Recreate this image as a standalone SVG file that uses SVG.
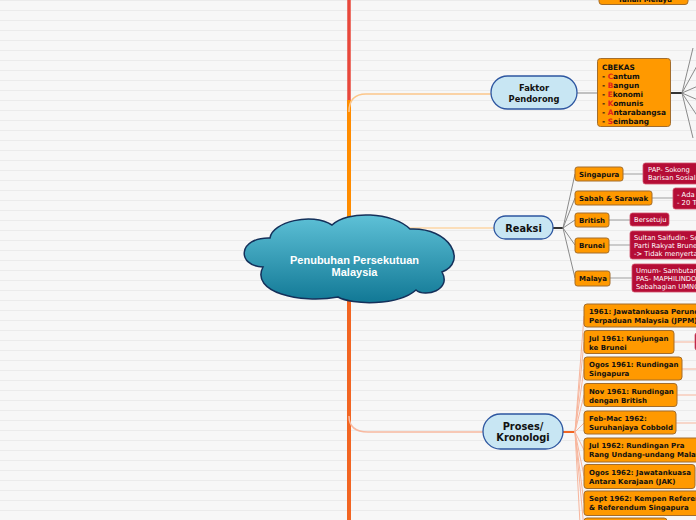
<svg xmlns="http://www.w3.org/2000/svg" width="696" height="520" viewBox="0 0 696 520">
<defs>
<pattern id="bg" width="10" height="10" patternUnits="userSpaceOnUse"><rect width="10" height="10" fill="#f7f7f7"/><rect y="0" width="10" height="1" fill="#ebebeb"/></pattern>
<linearGradient id="cg" x1="0" y1="0" x2="0" y2="1"><stop offset="0" stop-color="#5ec1d7"/><stop offset="1" stop-color="#117895"/></linearGradient>
</defs>
<style>
.ob{fill:#ff9900;stroke:#a36d2c;stroke-width:1}
.rb{fill:#b50d36;stroke:#d2506a;stroke-width:0.8}
.bn{fill:#c8e6f3;stroke:#2d56a0;stroke-width:1.3}
.b7,.w7,.nt,.cb{font-family:"DejaVu Sans",Verdana,sans-serif}
.b7{font-size:7px;font-weight:bold;fill:#111}
.cb{font-size:7.4px;font-weight:bold;fill:#111}
.w7{font-size:6.8px;fill:#fff}
.nt{font-weight:bold;fill:#111;text-anchor:middle}
.n8{font-size:8.3px}
.n10{font-size:9.8px}
.ct{font-family:"Liberation Sans",Arial,sans-serif;font-size:11px;font-weight:bold;fill:#fff;text-anchor:middle}
.red{fill:#e4221b}
.g{stroke:#8a8a8a;stroke-width:1;fill:none}
.s{stroke:#f7b59c;stroke-width:1;fill:none}
</style>
<rect width="696" height="520" fill="url(#bg)"/>

<g id="connectors" fill="none">
  <line x1="349" y1="0" x2="349" y2="104" stroke="#e8473b" stroke-width="3.5"/>
  <line x1="349" y1="100" x2="349" y2="240" stroke="#ff8c00" stroke-width="4"/>
  <line x1="349" y1="290" x2="349" y2="520" stroke="#f26522" stroke-width="4"/>
  <path d="M349,112 Q349,94 366,94 L491,94" stroke="#fcc68a" stroke-width="1.5"/>
  <path d="M349,228 L494,228" stroke="#fdd6a6" stroke-width="1.5"/>
  <path d="M349,416 Q349,432 368,432 L483,432" stroke="#f8b9a0" stroke-width="1.5"/>
  <line x1="577" y1="93" x2="597" y2="93" stroke="#9a9a9a" stroke-width="1.2"/>
  <line x1="671" y1="93" x2="683" y2="93" stroke="#333" stroke-width="2"/>
  <path class="g" d="M682,93 L693,48 M682,93 L698,64 M682,93 L698,86 M682,93 L698,100 M682,93 L698,117 M682,93 L693,138"/>
  <line x1="553" y1="228" x2="564" y2="228" stroke="#333" stroke-width="2"/>
  <path class="g" d="M563,228 L575,174 M563,228 L575,198 M563,228 L575,220 M563,228 L575,245 M563,228 L575,278"/>
  <path d="M623,174 H643 M652,198 H673 M609,220 H630 M609,245 H630 M610,278 H632" stroke="#a0a0a0" stroke-width="1.2"/>
  <line x1="563" y1="432" x2="576" y2="432" stroke="#f26522" stroke-width="2"/>
  <path class="s" d="M575,432 L584,316 M575,432 L584,342 M575,432 L584,369 M575,432 L584,395 M575,432 L584,423 M575,432 L584,450 M575,432 L584,476 M575,432 L584,503 M575,432 L584,529 M575,432 L582,560"/>
  <path class="s" d="M674,342 H696 M682,369 H696 M677,395 H696 M676,423 H696"/>
</g>

<g id="top-node">
  <rect class="ob" x="599" y="-20" width="89" height="24.5" rx="3"/>
  <text class="b7" x="645" y="1.5" text-anchor="middle">Tanah Melayu</text>
</g>

<g id="faktor">
  <rect class="bn" x="491" y="76" width="86" height="33" rx="16.5"/>
  <text class="nt n8" x="534" y="91">Faktor</text>
  <text class="nt n8" x="534" y="102">Pendorong</text>
</g>
<g id="cbekas">
  <rect class="ob" x="597.5" y="58.5" width="73" height="68" rx="3"/>
  <text class="cb" x="602" y="69.5">CBEKAS</text>
  <text class="cb" x="602" y="78.5">- <tspan class="red">C</tspan>antum</text>
  <text class="cb" x="602" y="87.5">- <tspan class="red">B</tspan>angun</text>
  <text class="cb" x="602" y="96.5">- <tspan class="red">E</tspan>konomi</text>
  <text class="cb" x="602" y="105.5">- <tspan class="red">K</tspan>omunis</text>
  <text class="cb" x="602" y="114.5">- <tspan class="red">A</tspan>ntarabangsa</text>
  <text class="cb" x="602" y="123.5">- <tspan class="red">S</tspan>eimbang</text>
</g>

<g id="reaksi">
  <rect class="bn" x="494" y="216" width="59" height="23" rx="11.5"/>
  <text class="nt n10" x="523.5" y="231.5">Reaksi</text>
</g>
<g id="singapura">
  <rect class="ob" x="575" y="167" width="48" height="14" rx="2.5"/>
  <text class="b7" x="579" y="176.5">Singapura</text>
</g>
<g id="sabah">
  <rect class="ob" x="575" y="191" width="77" height="14" rx="2.5"/>
  <text class="b7" x="579" y="200.5">Sabah &amp; Sarawak</text>
</g>
<g id="british">
  <rect class="ob" x="575" y="213" width="34" height="14" rx="2.5"/>
  <text class="b7" x="579" y="222.5">British</text>
</g>
<g id="brunei">
  <rect class="ob" x="575" y="238" width="34" height="15" rx="2.5"/>
  <text class="b7" x="579" y="248">Brunei</text>
</g>
<g id="malaya">
  <rect class="ob" x="575" y="271" width="35" height="15" rx="2.5"/>
  <text class="b7" x="579" y="281">Malaya</text>
</g>
<g id="r-singapura">
  <rect class="rb" x="643" y="163" width="70" height="21" rx="2.5"/>
  <text class="w7" x="648" y="171.8">PAP- Sokong</text>
  <text class="w7" x="648" y="179.8">Barisan Sosialis</text>
</g>
<g id="r-sabah">
  <rect class="rb" x="673" y="188" width="40" height="21" rx="2.5"/>
  <text class="w7" x="677" y="196.8">- Ada</text>
  <text class="w7" x="677" y="204.8">- 20 Tuntutan</text>
</g>
<g id="r-british">
  <rect class="rb" x="630" y="213" width="39" height="13" rx="2.5"/>
  <text class="w7" x="634" y="222">Bersetuju</text>
</g>
<g id="r-brunei">
  <rect class="rb" x="630" y="231" width="80" height="28" rx="2.5"/>
  <text class="w7" x="634" y="240">Sultan Saifudin- Setuju</text>
  <text class="w7" x="634" y="248">Parti Rakyat Brunei</text>
  <text class="w7" x="634" y="256">-&gt; Tidak menyertai</text>
</g>
<g id="r-malaya">
  <rect class="rb" x="632" y="264" width="80" height="28" rx="2.5"/>
  <text class="w7" x="636" y="272.5">Umum- Sambutan</text>
  <text class="w7" x="636" y="280.5">PAS- MAPHILINDO</text>
  <text class="w7" x="636" y="288.5">Sebahagian UMNO</text>
</g>

<g id="proses">
  <rect class="bn" x="483" y="414" width="80" height="35" rx="17.5"/>
  <text class="nt n10" x="523" y="430">Proses/</text>
  <text class="nt n10" x="523" y="441">Kronologi</text>
</g>
<g id="p1">
  <rect class="ob" x="584" y="304" width="130" height="23" rx="3"/>
  <text class="b7" x="589" y="314.2">1961: Jawatankuasa Perunding</text>
  <text class="b7" x="589" y="323.2">Perpaduan Malaysia (JPPM)</text>
</g>
<g id="p2">
  <rect class="ob" x="584" y="330.5" width="90" height="23" rx="3"/>
  <text class="b7" x="589" y="340.7">Jul 1961: Kunjungan</text>
  <text class="b7" x="589" y="349.7">ke Brunei</text>
  <rect class="rb" x="695" y="333" width="20" height="17" rx="2"/>
</g>
<g id="p3">
  <rect class="ob" x="584" y="357" width="98" height="23" rx="3"/>
  <text class="b7" x="589" y="367.2">Ogos 1961: Rundingan</text>
  <text class="b7" x="589" y="376.2">Singapura</text>
</g>
<g id="p4">
  <rect class="ob" x="584" y="383.5" width="93" height="23" rx="3"/>
  <text class="b7" x="589" y="393.7">Nov 1961: Rundingan</text>
  <text class="b7" x="589" y="402.7">dengan British</text>
</g>
<g id="p5">
  <rect class="ob" x="584" y="411" width="92" height="23" rx="3"/>
  <text class="b7" x="589" y="421.2">Feb-Mac 1962:</text>
  <text class="b7" x="589" y="430.2">Suruhanjaya Cobbold</text>
</g>
<g id="p6">
  <rect class="ob" x="584" y="438" width="130" height="24" rx="3"/>
  <text class="b7" x="589" y="448.4">Jul 1962: Rundingan Pra</text>
  <text class="b7" x="589" y="457.4">Rang Undang-undang Malaysia</text>
</g>
<g id="p7">
  <rect class="ob" x="584" y="464.5" width="111" height="24" rx="3"/>
  <text class="b7" x="589" y="474.9">Ogos 1962: Jawatankuasa</text>
  <text class="b7" x="589" y="483.9">Antara Kerajaan (JAK)</text>
</g>
<g id="p8">
  <rect class="ob" x="584" y="491" width="130" height="24.5" rx="3"/>
  <text class="b7" x="589" y="501.4">Sept 1962: Kempen Referendum</text>
  <text class="b7" x="589" y="510.4">&amp; Referendum Singapura</text>
</g>
<g id="p9">
  <rect class="ob" x="584" y="518" width="83" height="24" rx="3"/>
</g>

<g id="central">
  <path d="M263,267 C236,266 238,237 270,238 C272,222 312,212 332,225 C347,210 393,212 410,229 C450,227 468,262 442,272 C452,290 425,298 416,290 C398,306 352,305 338,297 C300,304 250,292 263,267 Z" fill="url(#cg)" stroke="#14305a" stroke-width="1.5"/>
  <text class="ct" x="354.5" y="264">Penubuhan Persekutuan</text>
  <text class="ct" x="354.5" y="276">Malaysia</text>
</g>
</svg>
